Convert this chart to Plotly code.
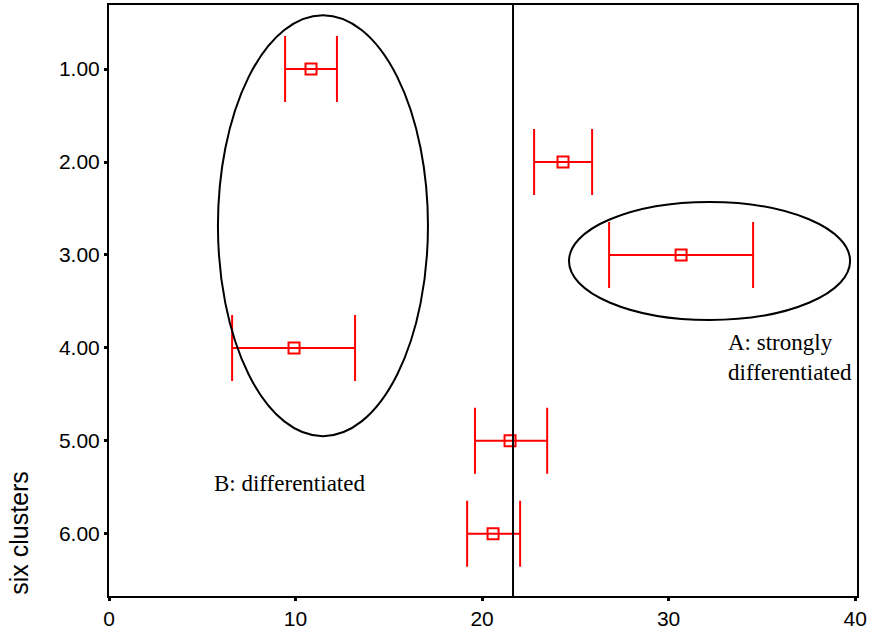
import plotly.graph_objects as go

clusters = [1, 2, 3, 4, 5, 6]
means = [10.83, 24.34, 30.67, 9.92, 21.50, 20.59]
lower = [9.44, 22.79, 26.81, 6.60, 19.62, 19.20]
upper = [12.22, 25.90, 34.53, 13.19, 23.49, 22.04]
ref_line_x = 21.66
ellipse_A = dict(x0=24.66, x1=39.73, y0=2.43, y1=3.70)
ellipse_B = dict(x0=5.84, x1=17.10, y0=0.42, y1=4.95)
x_ticks = [0, 10, 20, 30, 40]
y_ticks = [1, 2, 3, 4, 5, 6]
y_tick_labels = ["1.00", "2.00", "3.00", "4.00", "5.00", "6.00"]

fig = go.Figure()
fig.add_trace(go.Scatter(
    x=means, y=clusters, mode="markers",
    marker=dict(symbol="square-open", size=11, color="red", line=dict(width=2, color="red")),
    error_x=dict(type="data", symmetric=False,
                 array=[u - m for u, m in zip(upper, means)],
                 arrayminus=[m - l for m, l in zip(means, lower)],
                 color="red", thickness=2, width=33),
    showlegend=False,
))

fig.add_shape(type="line", xref="x", yref="paper", x0=ref_line_x, x1=ref_line_x, y0=0, y1=1,
              line=dict(color="black", width=2))
for e in (ellipse_A, ellipse_B):
    fig.add_shape(type="circle", xref="x", yref="y", line=dict(color="black", width=2), **e)

fig.add_annotation(x=36.5, y=4.10, xref="x", yref="y", text="A: strongly<br>differentiated",
                   showarrow=False, align="left",
                   font=dict(family="Liberation Serif", size=23, color="black"))
fig.add_annotation(x=9.7, y=5.46, xref="x", yref="y", text="B: differentiated",
                   showarrow=False, font=dict(family="Liberation Serif", size=23, color="black"))
fig.add_annotation(x=-0.1203, y=0.107, xref="paper", yref="paper", text="six clusters",
                   showarrow=False, textangle=-90, xanchor="center", yanchor="middle",
                   font=dict(family="Liberation Sans", size=25, color="black"))

fig.update_xaxes(range=[0, 40.1], tickvals=x_ticks, ticks="outside", ticklen=3, tickwidth=3,
                 tickcolor="black", showline=True, linecolor="black", linewidth=2, mirror=True,
                 showgrid=False, zeroline=False, automargin=False,
                 tickfont=dict(family="Liberation Sans", size=21, color="black"))
fig.update_yaxes(range=[6.67, 0.31], tickvals=y_ticks, ticktext=y_tick_labels, ticks="outside",
                 ticklen=3, tickwidth=3, tickcolor="black", showline=True, linecolor="black",
                 linewidth=2, mirror=True, showgrid=False, zeroline=False, automargin=False,
                 tickfont=dict(family="Liberation Sans", size=21, color="black"))
fig.update_layout(width=872, height=638, margin=dict(l=109, r=15, t=5, b=42),
                  plot_bgcolor="white", paper_bgcolor="white")
fig.write_html("out.html", config={"displayModeBar": False},
               post_script="document.body.style.margin='0';")
